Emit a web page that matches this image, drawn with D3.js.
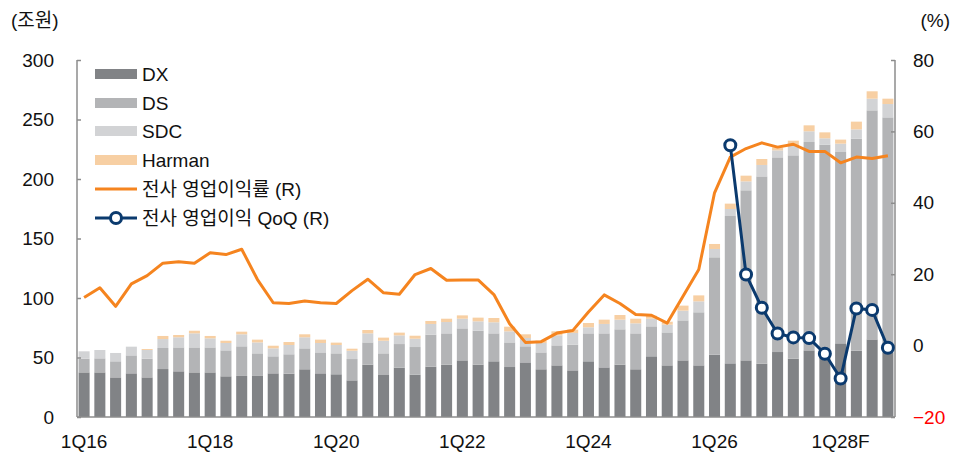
<!DOCTYPE html>
<html><head><meta charset="utf-8">
<script src="https://cdn.jsdelivr.net/npm/d3@7/dist/d3.min.js"></script>
<style>
html,body{margin:0;padding:0;background:#fff;}
text{font-family:"Liberation Sans","Noto Sans CJK KR",sans-serif;}
</style></head>
<body><svg id="c" width="963" height="455"></svg>
<script>
const categories = ["1Q16","2Q16","3Q16","4Q16","1Q17","2Q17","3Q17","4Q17","1Q18","2Q18","3Q18","4Q18",
"1Q19","2Q19","3Q19","4Q19","1Q20","2Q20","3Q20","4Q20","1Q21","2Q21","3Q21","4Q21",
"1Q22","2Q22","3Q22","4Q22","1Q23","2Q23","3Q23","4Q23","1Q24","2Q24","3Q24","4Q24",
"1Q25","2Q25","3Q25","4Q25","1Q26","2Q26","3Q26","4Q26","1Q27F","2Q27F","3Q27F","4Q27F",
"1Q28F","2Q28F","3Q28F","4Q28F"];
const xTickLabels = ["1Q16","1Q18","1Q20","1Q22","1Q24","1Q26","1Q28F"];
const xTickIndex = [0,8,16,24,32,40,48];
const dx = [37.5,37.5,33.3,36.7,33.3,40.3,38.4,37.5,37.5,34.2,34.5,34.5,36.7,36.4,40.1,36.7,35.9,30.8,44.0,35.3,41.5,35.6,42.3,44.0,47.6,44.0,46.8,42.0,45.9,40.1,43.4,39.2,46.8,41.7,44.0,40.1,51.0,43.4,47.6,43.4,52.4,45.1,47.6,44.8,54.6,49.0,56.0,51.5,61.9,55.7,65.2,53.8];
const ds = [11.5,11.8,13.5,15.1,15.7,17.7,20.1,21.0,21.0,21.8,24.9,19.0,14.3,16.3,17.6,17.6,17.6,17.9,18.7,18.2,19.8,23.2,26.9,26.3,26.9,28.5,23.5,20.7,13.5,14.2,16.8,21.6,23.5,28.6,29.7,30.2,25.2,27.7,33.6,44.6,81.8,123.8,142.9,157.4,163.6,170.9,175.1,177.4,160.8,178.2,192.5,198.0];
const sdc = [6.2,7.0,7.0,7.3,7.3,7.5,8.5,11.8,7.6,6.2,10.1,9.2,6.7,7.8,9.3,7.9,7.0,7.0,7.6,10.6,7.3,7.0,9.0,9.5,8.1,7.9,9.3,9.3,7.0,7.9,8.4,9.8,5.1,7.9,8.1,8.4,6.4,6.5,8.2,9.2,7.0,5.9,7.5,9.6,5.9,8.1,9.0,5.3,7.0,7.8,9.8,11.2];
const harman = [0,0,0,0,0.8,2.6,1.9,2.2,2.0,1.9,2.2,2.3,2.2,2.5,2.5,2.8,2.0,1.7,2.8,2.6,2.3,2.5,2.5,2.8,2.8,3.1,3.6,3.9,3.1,2.0,3.4,2.8,3.6,3.6,3.9,3.9,2.5,2.5,4.2,5.0,4.2,4.5,4.8,5.0,2.5,4.2,5.0,5.0,3.4,6.5,6.2,4.5];
const margin = [13.5,16.2,11.0,17.3,19.6,23.1,23.5,23.1,26.0,25.5,27.0,18.5,12.0,11.8,12.5,12.0,11.8,15.4,18.6,14.8,14.4,19.9,21.6,18.3,18.4,18.4,14.3,6.1,0.9,1.1,3.5,4.2,9.4,14.2,11.8,8.7,8.5,6.3,13.8,21.3,42.8,52.8,55.2,56.8,55.6,56.4,54.4,54.4,51.2,52.8,52.4,53.2];
const qoq = [null,null,null,null,null,null,null,null,null,null,null,null,null,null,null,null,null,null,null,null,null,null,null,null,null,null,null,null,null,null,null,null,null,null,null,null,null,null,null,null,null,56.1,19.9,10.6,3.4,2.3,2.1,-2.3,-9.2,10.4,10.0,-0.6];
const leftTicks = [0,50,100,150,200,250,300];
const rightTicks = [-20,0,20,40,60,80];
const seriesNames = ["DX","DS","SDC","Harman"];
const lineNames = ["전사 영업이익률 (R)","전사 영업이익 QoQ (R)"];
const colors = {DX:"#818386",DS:"#b3b4b6",SDC:"#d2d3d5",Harman:"#f7cfa3"};
const orange = "#f5841f", navy = "#0b3a6e", axisCol = "#8c8c8c";

const svg = d3.select("#c");
const L = 77, R = 895, T = 60, B = 417;
const FS = 19;
const x = d3.scaleBand().domain(categories).range([L, R]).paddingInner(0.3).paddingOuter(0.1);
const yL = d3.scaleLinear().domain([0,300]).range([B, T]);
const yR = d3.scaleLinear().domain([-20,80]).range([B, T]);

const rows = categories.map((c,i)=>({cat:c, DX:dx[i], DS:ds[i], SDC:sdc[i], Harman:harman[i]}));
const stack = d3.stack().keys(seriesNames)(rows);

svg.append("g").selectAll("g").data(stack).join("g")
  .attr("fill", d=>colors[d.key])
  .selectAll("rect").data(d=>d).join("rect")
  .attr("x", d=>x(d.data.cat)).attr("width", x.bandwidth())
  .attr("y", d=>yL(d[1])).attr("height", d=>Math.max(0, yL(d[0])-yL(d[1])));

// axes
const axL = svg.append("g").attr("transform",`translate(${L},0)`)
  .call(d3.axisRight(yL).tickValues(leftTicks).tickSize(4).tickFormat(""));
const axR = svg.append("g").attr("transform",`translate(${R},0)`)
  .call(d3.axisLeft(yR).tickValues(rightTicks).tickSize(4).tickFormat(""));
[axL, axR].forEach(a=>{ a.selectAll("path,line").attr("stroke", axisCol).attr("stroke-width",1.5); });
axL.select(".domain").attr("d", `M0,${T}V${B}`);
axR.select(".domain").attr("d", `M0,${T}V${B}`);
svg.append("line").attr("x1",L).attr("x2",R).attr("y1",B).attr("y2",B).attr("stroke",axisCol).attr("stroke-width",1.5);

svg.append("g").selectAll("text").data(leftTicks).join("text")
  .attr("x", 54).attr("y", d=>yL(d)).attr("dy","0.35em").attr("text-anchor","end")
  .attr("font-size",FS).attr("fill","#111").text(d=>d);
svg.append("g").selectAll("text").data(rightTicks).join("text")
  .attr("x", 913).attr("y", d=>yR(d)).attr("dy","0.35em").attr("text-anchor","start")
  .attr("font-size",FS).attr("fill", d=>d<0?"#ff0000":"#111").text(d=>d<0?"\u2212"+Math.abs(d):d);
svg.append("g").selectAll("text").data(xTickIndex).join("text")
  .attr("x", (d,i)=>x(categories[d])+x.bandwidth()/2).attr("y", 441).attr("dy","0.35em")
  .attr("text-anchor","middle").attr("font-size",FS).attr("fill","#111").text((d,i)=>xTickLabels[i]);
svg.append("text").attr("x",11).attr("y",20).attr("dy","0.35em").attr("font-size",FS).attr("fill","#111").text("(조원)");
svg.append("text").attr("x",950).attr("y",20).attr("dy","0.35em").attr("text-anchor","end").attr("font-size",FS).attr("fill","#111").text("(%)");

// lines
const cx = i => x(categories[i]) + x.bandwidth()/2;
const mLine = d3.line().x((d,i)=>cx(i)).y(d=>yR(d));
svg.append("path").attr("d", mLine(margin)).attr("fill","none").attr("stroke",orange).attr("stroke-width",3).attr("stroke-linejoin","round");
const qPts = qoq.map((v,i)=>({v,i})).filter(d=>d.v!==null);
const qLine = d3.line().x(d=>cx(d.i)).y(d=>yR(d.v));
svg.append("path").attr("d", qLine(qPts)).attr("fill","none").attr("stroke",navy).attr("stroke-width",3);
svg.append("g").selectAll("circle").data(qPts).join("circle")
  .attr("cx", d=>cx(d.i)).attr("cy", d=>yR(d.v)).attr("r",5.5)
  .attr("fill","#fff").attr("stroke",navy).attr("stroke-width",3);

// legend
const lg = svg.append("g");
const rowY = [74,103,131,160,189,218];
seriesNames.forEach((n,k)=>{
  lg.append("rect").attr("x",95).attr("y",rowY[k]-5).attr("width",42).attr("height",10).attr("fill",colors[n]);
  lg.append("text").attr("x",142).attr("y",rowY[k]).attr("dy","0.35em").attr("font-size",FS).attr("fill","#111").text(n);
});
lg.append("line").attr("x1",95).attr("x2",137).attr("y1",rowY[4]).attr("y2",rowY[4]).attr("stroke",orange).attr("stroke-width",3);
lg.append("text").attr("x",142).attr("y",rowY[4]).attr("dy","0.35em").attr("font-size",FS).attr("fill","#111").text(lineNames[0]);
lg.append("line").attr("x1",95).attr("x2",137).attr("y1",rowY[5]).attr("y2",rowY[5]).attr("stroke",navy).attr("stroke-width",3);
lg.append("circle").attr("cx",116).attr("cy",rowY[5]).attr("r",5.5).attr("fill","#fff").attr("stroke",navy).attr("stroke-width",3);
lg.append("text").attr("x",142).attr("y",rowY[5]).attr("dy","0.35em").attr("font-size",FS).attr("fill","#111").text(lineNames[1]);
</script></body></html>
